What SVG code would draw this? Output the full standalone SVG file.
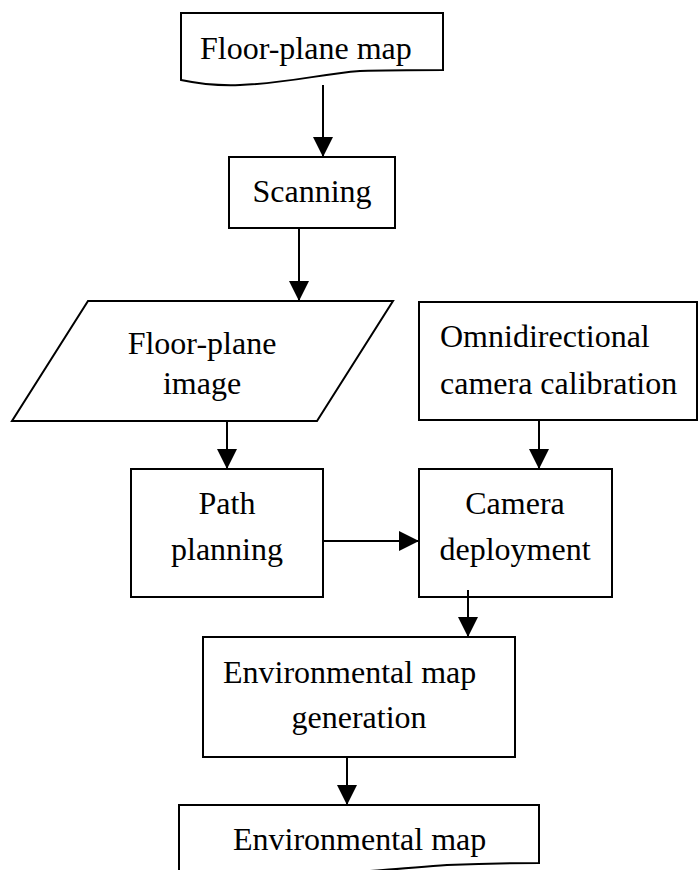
<svg xmlns="http://www.w3.org/2000/svg" width="698" height="870" viewBox="0 0 698 870">
  <style>
    .shape { fill: #ffffff; stroke: #000000; stroke-width: 2; }
    .label { font-family: "Liberation Serif", "Times New Roman", serif; font-size: 32px; fill: #000000; }
    .mid { text-anchor: middle; }
    .edge { fill: none; stroke: #000000; stroke-width: 2; marker-end: url(#arrow); }
  </style>
  <defs>
    <marker id="arrow" markerUnits="userSpaceOnUse" markerWidth="20" markerHeight="20" refX="20" refY="10" orient="auto">
      <path d="M0,0 L20,10 L0,20 Z" fill="#000000"/>
    </marker>
  </defs>
  <rect width="698" height="870" fill="#ffffff"/>

  <g id="floor-plane-map">
    <path class="shape" d="M181,13 H443 V70 C420,70 390,70 360,71 C320,74 290,83 240,85 C215,86 200,84 181,80 Z"/>
    <text class="label" x="200" y="59">Floor-plane map</text>
  </g>

  <g id="scanning">
    <rect class="shape" x="229" y="157" width="166" height="71"/>
    <text class="label mid" x="312" y="202">Scanning</text>
  </g>

  <g id="floor-plane-image">
    <polygon class="shape" points="88,301 393,301 317,421 12,421"/>
    <text class="label mid" x="202" y="354">Floor-plane</text>
    <text class="label mid" x="202" y="394">image</text>
  </g>

  <g id="camera-calibration">
    <rect class="shape" x="419" y="302" width="278" height="118"/>
    <text class="label" x="440" y="347">Omnidirectional</text>
    <text class="label" x="440" y="394">camera calibration</text>
  </g>

  <g id="path-planning">
    <rect class="shape" x="131" y="469" width="192" height="128"/>
    <text class="label mid" x="227" y="514">Path</text>
    <text class="label mid" x="227" y="560">planning</text>
  </g>

  <g id="camera-deployment">
    <rect class="shape" x="419" y="469" width="193" height="128"/>
    <text class="label mid" x="515" y="514">Camera</text>
    <text class="label mid" x="515" y="560">deployment</text>
  </g>

  <g id="map-generation">
    <rect class="shape" x="203" y="637" width="312" height="120"/>
    <text class="label" x="223" y="683">Environmental map</text>
    <text class="label mid" x="359" y="728">generation</text>
  </g>

  <g id="environmental-map">
    <path class="shape" d="M179,805 H539 V863 C505,863 470,864 447,865 C420,867 400,869 383,870 C330,874 290,878 247,878 C215,878 200,876 179,872 Z"/>
    <text class="label" x="233" y="850">Environmental map</text>
  </g>

  <g id="connectors">
    <path class="edge" d="M323,85 V157"/>
    <path class="edge" d="M299,228 V301"/>
    <path class="edge" d="M227,421 V469"/>
    <path class="edge" d="M539,420 V469"/>
    <path class="edge" d="M323,541 H419"/>
    <path class="edge" d="M468,590 V637"/>
    <path class="edge" d="M347,757 V805"/>
  </g>
</svg>
